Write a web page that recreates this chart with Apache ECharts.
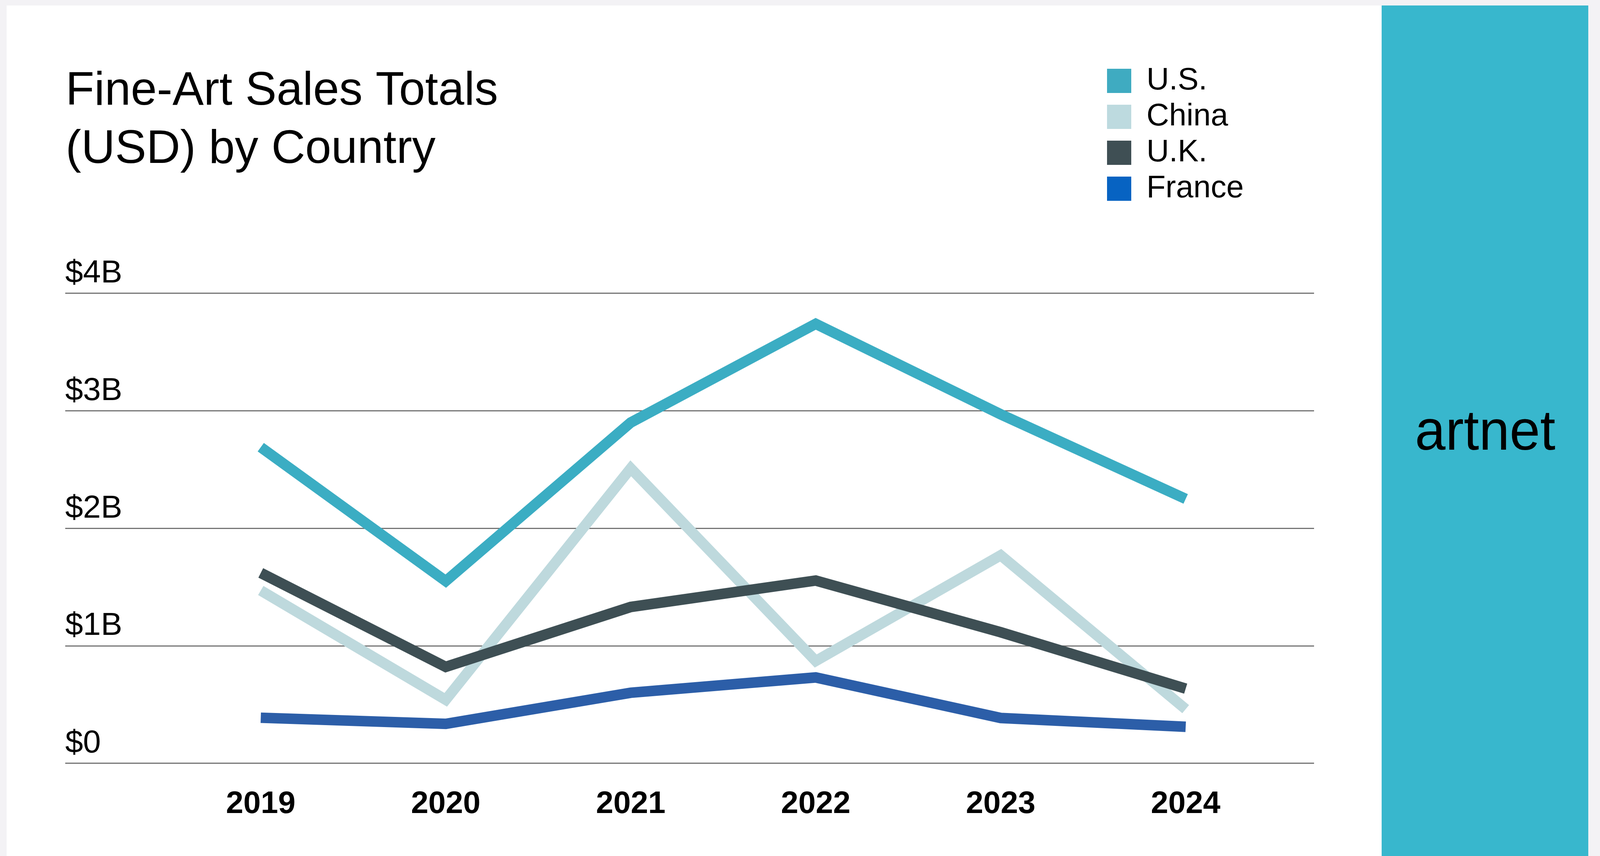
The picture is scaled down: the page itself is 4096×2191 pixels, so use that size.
<!DOCTYPE html>
<html>
<head>
<meta charset="utf-8">
<style>
html,body{margin:0;padding:0;background:#fff;}
#chart{width:4096px;height:2191px;}
</style>
<script src="https://cdn.jsdelivr.net/npm/echarts@6/dist/echarts.min.js"></script>
</head>
<body>
<div id="chart"></div>
<script>
// ---- data ----
const years = [2019, 2020, 2021, 2022, 2023, 2024];
const usSales = [2.69, 1.55, 2.90, 3.74, 2.97, 2.25];
const chinaSales = [1.47, 0.54, 2.51, 0.87, 1.77, 0.46];
const ukSales = [1.62, 0.82, 1.33, 1.555, 1.115, 0.635];
const franceSales = [0.387, 0.335, 0.60, 0.73, 0.385, 0.31];
const seriesNames = ['U.S.', 'China', 'U.K.', 'France'];
const yTickLabels = ['$0', '$1B', '$2B', '$3B', '$4B'];

const lineColors = ['#3badc3', '#bed9dd', '#3e4f54', '#2c5ea8'];
const legendColors = ['#3fabc1', '#bddadf', '#3f4f54', '#0763c2'];
const allSeries = [usSales, chinaSales, ukSales, franceSales];

const FONT = '"Liberation Sans", Arial, Helvetica, sans-serif';

const chart = echarts.init(document.getElementById('chart'), null, {renderer: 'canvas'});

const option = {
  backgroundColor: '#ffffff',
  animation: false,
  title: {
    text: 'Fine-Art Sales Totals\n(USD) by Country',
    left: 168,
    top: 160,
    padding: 0,
    textStyle: {
      fontFamily: FONT,
      fontSize: 120,
      lineHeight: 149,
      fontWeight: 'normal',
      color: '#000000'
    }
  },
  legend: {
    orient: 'vertical',
    left: 2834,
    top: 167,
    padding: 0,
    itemWidth: 62,
    itemHeight: 62,
    itemGap: 12,
    icon: 'rect',
    selectedMode: false,
    textStyle: {
      fontFamily: FONT,
      fontSize: 80,
      color: '#000000',
      padding: [0, 0, 0, 34]
    },
    data: seriesNames.map((n, i) => ({name: n, itemStyle: {color: legendColors[i]}}))
  },
  grid: {
    left: 167,
    right: 732,
    top: 750.7,
    bottom: 237.5,
    containLabel: false
  },
  xAxis: {
    type: 'value',
    min: 2017.943,
    max: 2024.694,
    axisLine: {show: false},
    axisTick: {show: false},
    splitLine: {show: false},
    axisLabel: {
      customValues: years,
      formatter: v => String(Math.round(v)),
      fontFamily: FONT,
      fontSize: 80,
      lineHeight: 80,
      fontWeight: 'bold',
      color: '#000000',
      margin: 65,
      verticalAlign: 'top'
    }
  },
  yAxis: {
    type: 'value',
    min: 0,
    max: 4,
    interval: 1,
    axisLine: {show: false},
    axisTick: {show: false},
    splitLine: {show: true, lineStyle: {color: '#747474', width: 3}},
    axisLabel: {
      inside: true,
      margin: 0,
      align: 'left',
      verticalAlign: 'bottom',
      fontFamily: FONT,
      fontSize: 82,
      lineHeight: 82,
      color: '#000000',
      padding: [0, 0, 9, 0],
      formatter: v => yTickLabels[Math.round(v)]
    }
  },
  graphic: [
    {type: 'rect', shape: {x: 0, y: 0, width: 4096, height: 14}, style: {fill: '#f3f2f5'}, silent: true},
    {type: 'rect', shape: {x: 0, y: 0, width: 17, height: 2191}, style: {fill: '#f3f2f5'}, silent: true},
    {type: 'rect', shape: {x: 4066, y: 0, width: 30, height: 2191}, style: {fill: '#f3f2f5'}, silent: true},
    {type: 'rect', shape: {x: 3537, y: 14, width: 529, height: 2177}, style: {fill: '#38b7cd'}, silent: true},
    {type: 'text', x: 3802, y: 1111, scaleX: 0.97, style: {
      text: 'artnet', fill: '#000000', font: '145px ' + FONT,
      textAlign: 'center', textVerticalAlign: 'middle'
    }, silent: true}
  ],
  series: seriesNames.map((n, i) => ({
    name: n,
    type: 'line',
    data: years.map((y, k) => [y, allSeries[i][k]]),
    symbol: 'none',
    color: legendColors[i],
    lineStyle: {color: lineColors[i], width: 27, cap: 'butt', join: 'miter'},
    itemStyle: {color: legendColors[i]}
  }))
};

chart.setOption(option);
</script>
</body>
</html>
